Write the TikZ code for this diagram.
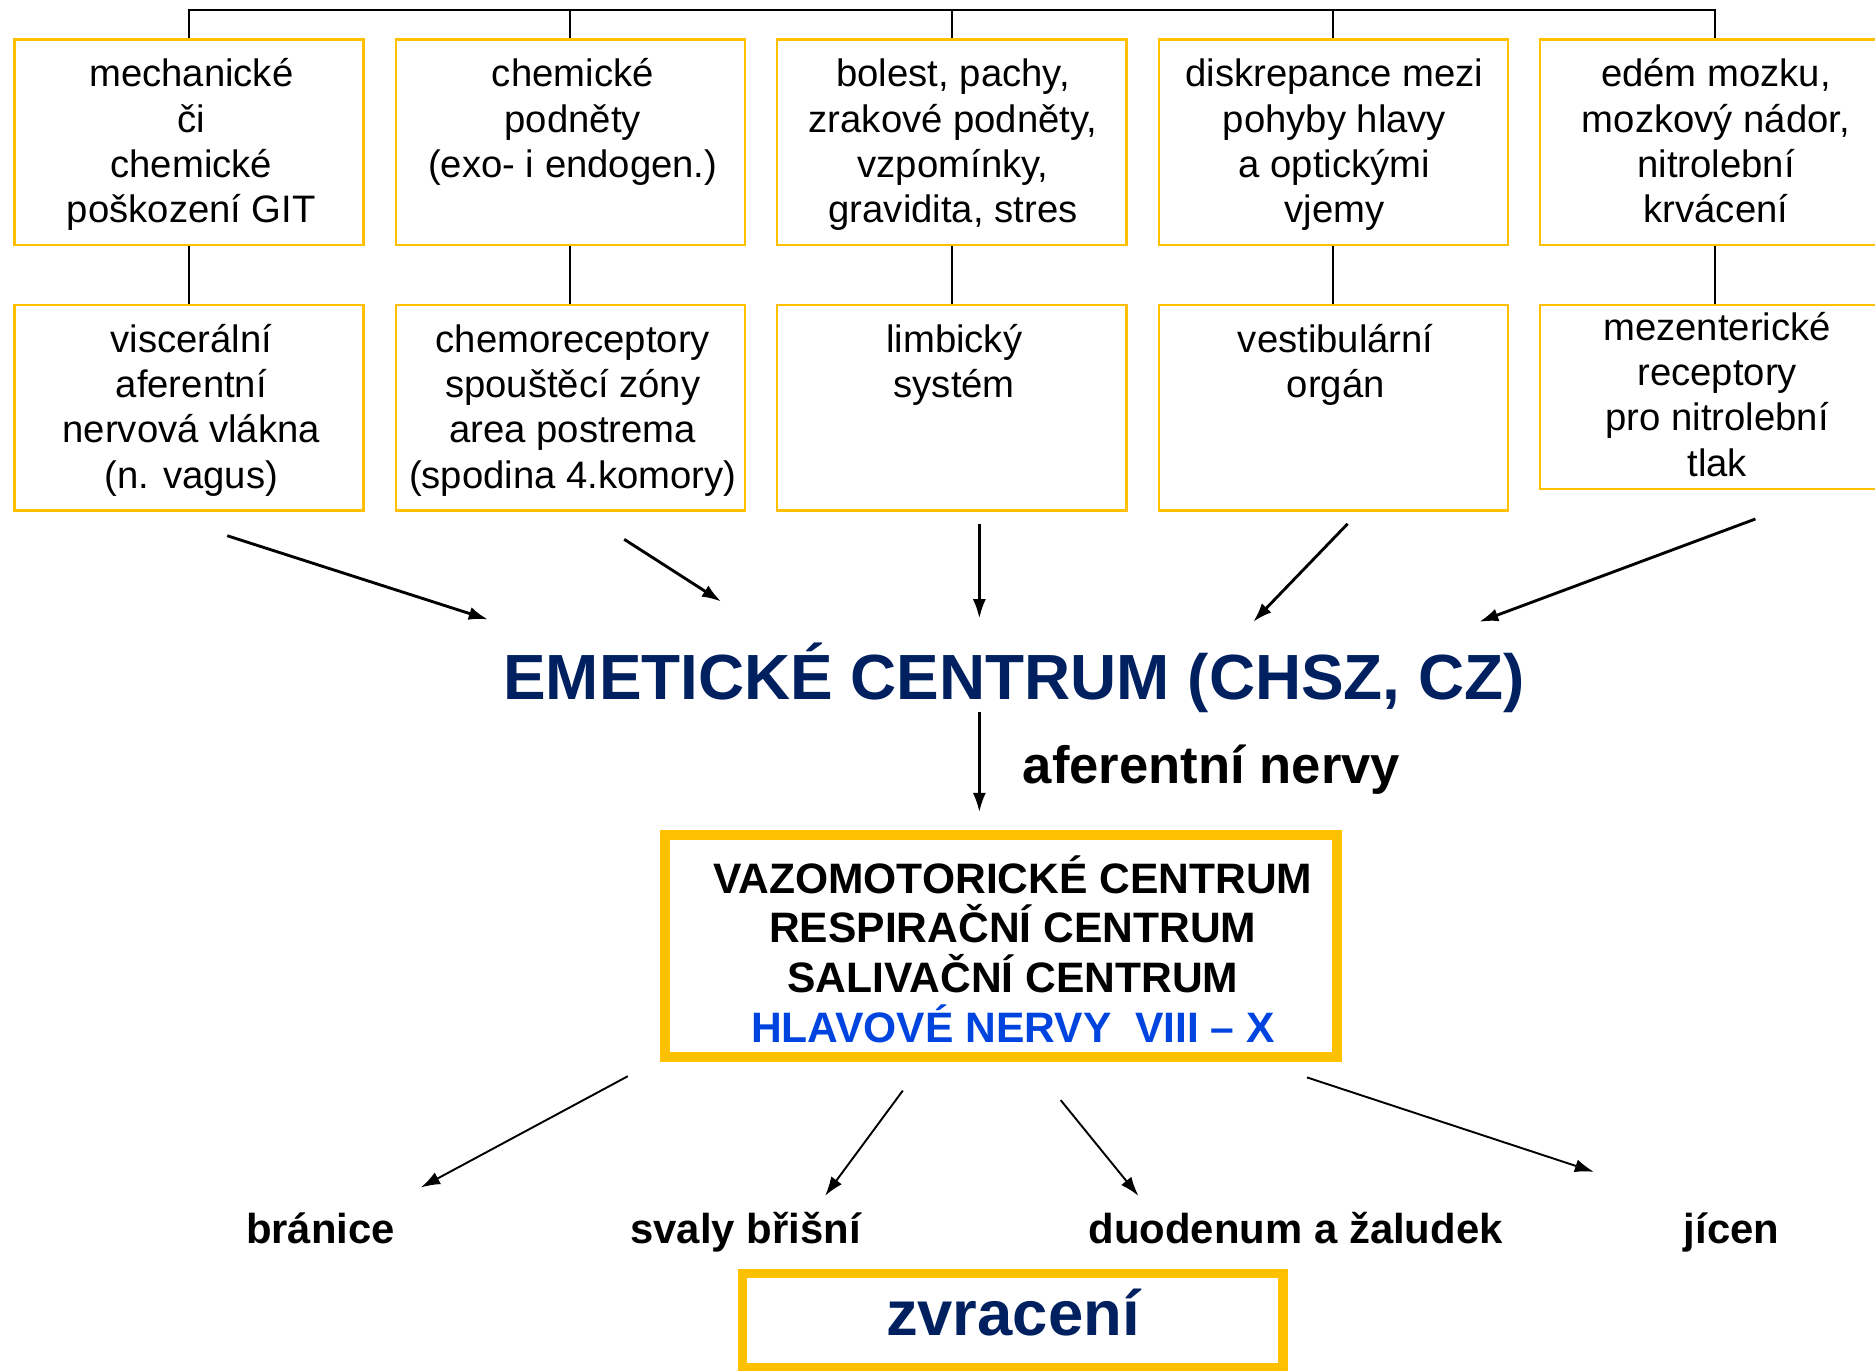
\documentclass[tikz,border=0pt]{standalone}
\usepackage{fontspec}
\setmainfont{Liberation Sans}
\usetikzlibrary{arrows.meta}
\definecolor{gold}{HTML}{FFC000}
\definecolor{navy}{HTML}{002060}
\definecolor{hblue}{HTML}{0044E0}
\begin{document}
\begin{tikzpicture}[x=0.5pt,y=-0.5pt,
  box/.style={draw=gold, line width=1pt, minimum width=146pt, minimum height=86pt, inner sep=0pt},
  bigbox/.style={draw=gold, line width=4pt, inner sep=0pt},
  txt/.style={anchor=north, align=center, inner sep=0pt, font=\fontsize{16}{19}\selectfont},
  tree/.style={line width=0.8pt, black},
  arr/.style={-{Latex[length=8pt,width=5.5pt]}, line width=1.2pt},
  arrthin/.style={-{Latex[length=8pt,width=5.5pt]}, line width=0.8pt},
  lbl/.style={anchor=base, inner sep=0pt, font=\fontsize{17.5}{21}\selectfont\bfseries}
]
\useasboundingbox (0,0) rectangle (1568,1146);

% top row boxes
\node[box] (t1) at (158,119) {};
\node[box] (t2) at (477,119) {};
\node[box] (t3) at (796,119) {};
\node[box] (t4) at (1115,119) {};
\node[box] (t5) at (1434,119) {};
% bottom row boxes
\node[box] (b1) at (158,341) {};
\node[box] (b2) at (477,341) {};
\node[box] (b3) at (796,341) {};
\node[box] (b4) at (1115,341) {};
\node[box, minimum height=77pt] (b5) at (1434,332) {};

% texts top row
\node[txt] (t1t) at (160,44) {\rule{0pt}{14pt}mechanické\\či\\chemické\\poškození GIT};
\node[txt] (t2t) at (479,44) {\rule{0pt}{14pt}chemické\\podněty\\(exo- i endogen.)};
\node[txt] (t3t) at (797,44) {\rule{0pt}{14pt}bolest, pachy,\\zrakové podněty,\\vzpomínky,\\gravidita, stres};
\node[txt] (t4t) at (1116,44) {\rule{0pt}{14pt}diskrepance mezi\\pohyby hlavy\\a optickými\\vjemy};
\node[txt] (t5t) at (1435,44) {\rule{0pt}{14pt}edém mozku,\\mozkový nádor,\\nitrolební\\krvácení};
% texts bottom row
\node[txt] (b1t) at (160,266) {\rule{0pt}{14pt}viscerální\\aferentní\\nervová vlákna\\(n. vagus)};
\node[txt] (b2t) at (479,266) {\rule{0pt}{14pt}chemoreceptory\\spouštěcí zóny\\area postrema\\(spodina 4.komory)};
\node[txt] (b3t) at (798,266) {\rule{0pt}{14pt}limbický\\systém};
\node[txt] (b4t) at (1117,266) {\rule{0pt}{14pt}vestibulární\\orgán};
\node[txt] (b5t) at (1436,256) {\rule{0pt}{14pt}mezenterické\\receptory\\pro nitrolební\\tlak};

% tree connectors
\coordinate (bus) at (0,8);
\draw[tree] (t1.north) |- (bus -| t5.north) -- (t5.north);
\draw[tree] (t2.north) -- (t2.north |- bus);
\draw[tree] (t3.north) -- (t3.north |- bus);
\draw[tree] (t4.north) -- (t4.north |- bus);
\draw[tree] (t1.south) -- (b1.north);
\draw[tree] (t2.south) -- (b2.north);
\draw[tree] (t3.south) -- (b3.north);
\draw[tree] (t4.south) -- (b4.north);
\draw[tree] (t5.south) -- (b5.north);

% emetic centre
\node[anchor=base, inner sep=0pt, text=navy, font=\fontsize{26.7}{30}\selectfont\bfseries] (em) at (848,585) {EMETICKÉ CENTRUM (CHSZ, CZ)};

\coordinate (s1) at (190,448); \coordinate (e1) at (408,518);
\coordinate (s2) at (522,451); \coordinate (e2) at (603,503);
\coordinate (s3) at (819,438); \coordinate (e3) at (819,517);
\coordinate (s4) at (1127,438); \coordinate (e4) at (1048,520);
\coordinate (s5) at (1468,434); \coordinate (e5) at (1237,520);
\draw[arr] (s1) -- (e1);
\draw[arr] (s2) -- (e2);
\draw[arr, line width=1pt] (s3) -- (e3);
\draw[arr] (s4) -- (e4);
\draw[arr] (s5) -- (e5);

% afferent nerves
\coordinate (s6) at (819,595); \coordinate (e6) at (819,679);
\draw[arr, line width=1pt] (s6) -- (e6);
\node[anchor=base west, inner sep=0pt, font=\fontsize{22}{26}\selectfont\bfseries] (af) at (855,655) {aferentní nervy};

% centres box
\node[bigbox, minimum width=281pt, minimum height=92.75pt] (vc) at (837,791.25) {};
\node[anchor=north, align=center, inner sep=0pt, font=\fontsize{17.8}{20.75}\selectfont\bfseries] (vct) at (847,715)
  {\rule{0pt}{13pt}VAZOMOTORICKÉ CENTRUM\\RESPIRAČNÍ CENTRUM\\SALIVAČNÍ CENTRUM\\{\color{hblue}HLAVOVÉ NERVY\ \ VIII – X}};

% lower arrows
\coordinate (s7) at (525,900); \coordinate (e7) at (352,993);
\coordinate (s8) at (755,912); \coordinate (e8) at (690,1000);
\coordinate (s9) at (887,920); \coordinate (e9) at (952,1000);
\coordinate (s10) at (1093,901); \coordinate (e10) at (1333,980);
\draw[arrthin] (s7) -- (e7);
\draw[arrthin] (s8) -- (e8);
\draw[arrthin] (s9) -- (e9);
\draw[arrthin] (s10) -- (e10);

\node[lbl] (l1) at (268,1040) {bránice};
\node[lbl] (l2) at (623.5,1040) {svaly břišní};
\node[lbl] (l3) at (1083.5,1040) {duodenum a žaludek};
\node[lbl] (l4) at (1448,1040) {jícen};

% vomiting box
\node[bigbox, minimum width=226pt, minimum height=39.5pt] (zv) at (847,1104.5) {};
\node[anchor=base, inner sep=0pt, text=navy, font=\fontsize{26.5}{30}\selectfont\bfseries] (zvt) at (847,1117) {zvracení};
\end{tikzpicture}
\end{document}
